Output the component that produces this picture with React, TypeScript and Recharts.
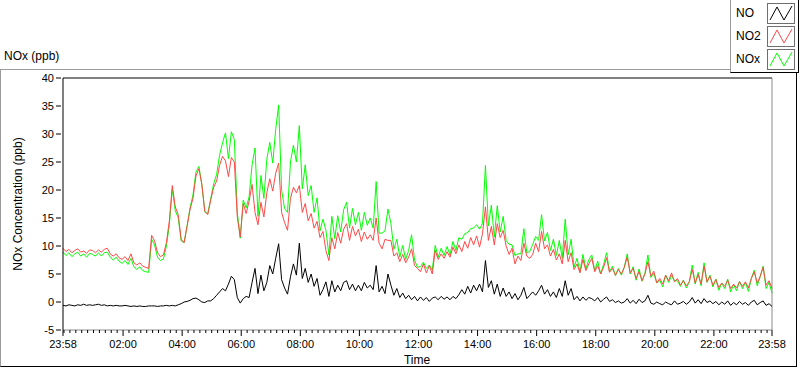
import { Line, LineChart, ReferenceLine, XAxis, YAxis } from "recharts";

// sampled every 6 minutes from 23:58 (t = 0) to 23:58 next day (t = 1440)
const SAMPLE_MINUTES = 6;

const no = [
  -0.6, -0.7, -0.5, -0.6, -0.7, -0.5, -0.6, -0.4, -0.6, -0.5,
  -0.6, -0.5, -0.4, -0.6, -0.5, -0.7, -0.6, -0.7, -0.6, -0.7,
  -0.7, -0.6, -0.7, -0.8, -0.7, -0.8, -0.7, -0.8, -0.8, -0.7,
  -0.7, -0.7, -0.8, -0.7, -0.7, -0.6, -0.7, -0.6, -0.7, -0.5,
  -0.3, 0.0, 0.1, 0.3, 0.6, 0.7, 0.4, 0.0, -0.1, 0.2,
  0.2, 0.6, 1.2, 1.8, 2.4, 2.0, 3.2, 4.6, 4.0, 0.8,
  -0.2, 0.6, 1.0, 0.8, 3.5, 6.0, 1.5, 4.8, 2.0, 3.5,
  6.5, 5.0, 7.8, 10.4, 4.0, 2.5, 1.4, 4.5, 6.8, 4.8,
  10.5, 4.2, 6.0, 3.5, 5.0, 2.8, 4.2, 1.2, 2.2, 3.6,
  1.0, 3.8, 1.8, 3.0, 2.0, 3.5, 3.8, 2.2, 3.2, 2.0,
  3.0, 2.0, 3.5, 2.5, 3.0, 2.2, 6.5, 1.8, 2.8, 1.5,
  5.0, 3.0, 1.2, 2.4, 0.8, 1.6, 0.6, 1.2, 0.4, 1.0,
  0.2, 0.9, 0.3, 0.8, 0.1, 0.7, 0.9, 0.4, 1.0, 0.5,
  0.9, 0.4, 1.0, 0.6, 1.3, 2.2, 1.4, 2.8, 1.6, 3.0,
  2.0, 3.2, 1.8, 7.4, 2.6, 3.8, 1.4, 3.2, 1.0, 2.5,
  1.0, 1.8, 0.6, 1.5, 0.4, 1.2, 2.6, 0.6, 1.2, 1.8,
  1.2, 2.0, 3.0, 1.4, 2.2, 1.0, 1.8, 0.8, 2.4, 1.0,
  3.8, 1.2, 2.4, 0.4, 1.0, 0.2, 0.9, 0.3, 0.8, 0.6,
  0.2, 0.8, 0.0, 0.5, 0.9, 0.1, 0.4, -0.1, 0.2, -0.2,
  0.0, 0.6, -0.2, 0.3, -0.3, 0.5, -0.1, 0.2, 1.2, -0.2,
  -0.4, 0.0, -0.3, -0.5, 0.0, -0.3, -0.5, 0.2, -0.4, -0.2,
  0.1, -0.4, 0.0, 0.8, -0.2, 0.4, -0.3, 0.6, -0.1, 0.2,
  -0.3, 0.1, -0.5, 0.0, -0.4, 0.2, -0.6, -0.1, -0.5, 0.1,
  -0.4, -0.1, -0.6, 0.0, 0.3, -0.5, -0.1, 0.2, -0.6, -0.3, -0.8,
];

const no2 = [
  9.6, 9.0, 9.4, 8.8, 9.2, 9.5, 8.9, 9.1, 8.7, 9.3,
  9.2, 8.8, 9.3, 8.9, 9.4, 9.6, 8.6, 8.2, 8.6, 7.9,
  7.6, 8.1, 7.4, 8.6, 7.0, 6.6, 7.0, 6.4, 6.2, 6.0,
  11.9, 10.9, 8.8, 8.1, 8.4, 10.6, 14.5, 20.8, 17.0, 15.6,
  11.2, 10.6, 13.5, 16.5, 18.5, 22.5, 23.8, 21.0, 16.2, 15.6,
  18.2, 20.5, 21.6, 24.4, 26.0, 25.2, 22.4, 25.8, 25.0, 15.2,
  11.6, 17.6, 15.8, 18.0, 21.0, 16.0, 13.8, 17.8, 15.2, 19.5,
  22.0, 19.8, 23.0, 24.8, 16.0, 14.2, 12.8, 18.5, 20.5, 19.5,
  20.8, 16.0, 17.6, 14.5, 15.8, 13.2, 14.4, 11.5, 12.6, 9.2,
  7.4, 11.5, 9.5, 12.4, 10.5, 13.0, 14.0, 11.0, 13.5, 11.8,
  13.0, 10.8, 12.5, 11.2, 12.0, 11.0, 15.0, 10.5, 9.5, 11.2,
  11.0, 11.0, 8.2, 8.8, 7.2, 8.5, 7.0, 8.0, 9.5, 6.5,
  6.0, 5.4, 6.8, 5.2, 6.5, 5.0, 9.2, 7.6, 8.6, 7.8,
  9.0, 8.0, 9.8, 8.6, 10.2, 9.0, 10.8, 9.6, 11.5, 10.2,
  11.8, 9.8, 12.2, 17.0, 11.0, 13.5, 10.2, 14.0, 11.5, 12.8,
  10.0, 8.5, 9.6, 6.8, 8.2, 7.4, 10.5, 8.2, 7.8, 8.5,
  10.5, 9.0, 12.6, 9.5, 10.2, 8.2, 9.4, 7.5, 8.6, 6.8,
  11.0, 7.2, 8.8, 5.8, 6.8, 5.2, 7.6, 5.6, 6.8, 7.8,
  5.4, 6.5, 5.0, 6.2, 7.9, 5.3, 6.0, 4.8, 5.8, 5.0,
  6.2, 8.0, 5.2, 6.0, 4.2, 5.4, 3.8, 5.0, 7.2, 4.6,
  5.5, 3.4, 4.2, 3.2, 4.8, 3.8, 5.2, 3.6, 4.2, 3.0,
  3.8, 2.9, 3.6, 5.8, 3.4, 4.9, 3.2, 6.4, 3.6, 4.6,
  3.0, 4.0, 2.6, 3.4, 2.8, 3.9, 2.4, 3.2, 2.5, 3.6,
  2.8, 3.6, 2.5, 4.2, 5.4, 3.4, 4.6, 6.2, 3.0, 3.8, 2.4,
];

const nox = [
  8.9, 8.3, 8.8, 8.1, 8.6, 8.9, 8.2, 8.6, 8.0, 8.7,
  8.5, 8.2, 8.8, 8.2, 8.8, 8.9, 8.0, 7.5, 8.0, 7.3,
  6.9, 7.4, 6.7, 7.8, 6.3, 5.8, 6.3, 5.6, 5.4, 5.3,
  11.2, 10.2, 8.0, 7.4, 7.7, 10.0, 13.8, 20.2, 16.3, 15.1,
  10.9, 10.6, 13.6, 16.8, 19.1, 23.2, 24.2, 21.0, 16.1, 15.8,
  18.4, 21.1, 22.8, 26.2, 28.4, 30.2, 25.6, 30.4, 29.0, 16.0,
  11.4, 18.2, 16.8, 18.8, 24.5, 27.5, 15.3, 22.6, 18.5, 25.5,
  28.5, 24.8, 30.8, 35.2, 20.0, 16.7, 16.0, 25.0, 28.0, 25.0,
  31.5, 20.2, 24.5, 19.0, 20.8, 16.0, 18.6, 12.7, 14.8, 12.8,
  8.4, 15.3, 11.3, 15.4, 12.5, 16.5, 17.8, 13.2, 16.7, 13.8,
  16.0, 12.8, 16.0, 13.7, 15.0, 13.2, 21.5, 12.3, 12.3, 12.7,
  16.6, 14.0, 9.4, 11.2, 8.0, 10.1, 7.6, 9.2, 12.0, 7.5,
  6.2, 6.3, 7.1, 6.0, 6.6, 5.7, 10.1, 8.0, 9.6, 8.3,
  9.9, 8.4, 10.8, 9.2, 11.5, 11.2, 12.2, 12.4, 13.1, 13.2,
  13.8, 13.0, 14.0, 24.4, 13.6, 17.3, 11.6, 17.2, 12.5, 15.3,
  11.0, 10.3, 10.2, 8.3, 8.6, 8.6, 13.1, 8.8, 9.0, 10.3,
  11.7, 11.0, 15.6, 10.9, 12.4, 9.2, 11.2, 8.3, 11.0, 7.8,
  14.8, 8.4, 11.2, 6.2, 7.8, 5.4, 8.5, 5.9, 7.6, 8.4,
  5.6, 7.3, 5.0, 6.7, 8.8, 5.4, 6.4, 4.7, 6.0, 4.8,
  6.2, 8.6, 5.0, 6.3, 3.9, 5.9, 3.7, 5.2, 8.4, 4.4,
  5.1, 3.4, 3.9, 2.7, 4.8, 3.5, 4.7, 3.8, 3.8, 2.8,
  3.9, 2.5, 3.6, 6.6, 3.2, 5.3, 2.9, 7.0, 3.5, 4.8,
  2.7, 4.1, 2.1, 3.4, 2.4, 4.1, 1.8, 3.1, 2.0, 3.7,
  2.4, 3.5, 1.9, 4.2, 5.7, 2.9, 4.5, 6.4, 2.4, 3.5, 1.6,
];

const yTicks = [-5, 0, 5, 10, 15, 20, 25, 30, 35, 40];
// major x ticks (minutes after 23:58) and their labels
const majorTicks = [0, 122, 242, 362, 482, 602, 722, 842, 962, 1082, 1202, 1322, 1440];
const majorLabels = ["23:58", "02:00", "04:00", "06:00", "08:00", "10:00", "12:00", "14:00", "16:00", "18:00", "20:00", "22:00", "23:58"];
const minorTicks = [2, 14, 26, 38, 50, 62, 74, 86, 98, 110, 134, 146, 158, 170, 182, 194, 206, 218, 230, 254, 266, 278, 290, 302, 314, 326, 338, 350, 374, 386, 398, 410, 422, 434, 446, 458, 470, 494, 506, 518, 530, 542, 554, 566, 578, 590, 614, 626, 638, 650, 662, 674, 686, 698, 710, 734, 746, 758, 770, 782, 794, 806, 818, 830, 854, 866, 878, 890, 902, 914, 926, 938, 950, 974, 986, 998, 1010, 1022, 1034, 1046, 1058, 1070, 1094, 1106, 1118, 1130, 1142, 1154, 1166, 1178, 1190, 1214, 1226, 1238, 1250, 1262, 1274, 1286, 1298, 1310, 1334, 1346, 1358, 1370, 1382, 1394, 1406, 1418, 1430];

const series = [
  { key: "NO", color: "#000000" },
  { key: "NO2", color: "#ff4848" },
  { key: "NOx", color: "#00ff00" },
];

const data = no.map((v, i) => ({ t: i * SAMPLE_MINUTES, NO: v, NO2: no2[i], NOx: nox[i] }));

const FONT = "'Liberation Sans', Arial, sans-serif";

const XTick = (props: any) => {
  const { x, y, payload } = props;
  const idx = majorTicks.indexOf(payload.value);
  if (idx < 0) {
    return <line x1={x} x2={x} y1={y} y2={y + 3} stroke="#000" />;
  }
  return (
    <g>
      <line x1={x} x2={x} y1={y} y2={y + 6} stroke="#000" />
      <text x={x} y={y + 18} textAnchor="middle" fontSize={11} fontFamily={FONT} fill="#000">
        {majorLabels[idx]}
      </text>
    </g>
  );
};

const YTick = (props: any) => {
  const { x, y, payload } = props;
  return (
    <g>
      <line x1={x - 7} x2={x - 2} y1={y} y2={y} stroke="#000" />
      <text x={x - 9} y={y + 4} textAnchor="end" fontSize={11} fontFamily={FONT} fill="#000">
        {payload.value}
      </text>
    </g>
  );
};

function LegendBox() {
  return (
    <div
      style={{
        position: "absolute",
        left: 730,
        top: 0,
        width: 67,
        height: 72,
        borderLeft: "1px solid #9a9a9a",
        borderBottom: "1px solid #000",
        borderRight: "1px solid #000",
        background: "#fff",
      }}
    >
      {series.map((s, i) => (
        <div key={s.key} style={{ position: "absolute", left: 0, top: 3 + i * 23, height: 21, width: 67 }}>
          <span
            style={{
              position: "absolute",
              left: 5,
              top: 3,
              fontSize: 12,
              fontFamily: FONT,
              color: "#000",
            }}
          >
            {s.key}
          </span>
          <svg width={28} height={21} style={{ position: "absolute", left: 36, top: 0 }}>
            <rect x={0.5} y={0.5} width={27} height={20} fill="#fff" stroke="#6e6e6e" />
            <polyline points="3,17 10,4 17,17 25,3" fill="none" stroke={s.color} strokeWidth={1} />
          </svg>
        </div>
      ))}
    </div>
  );
}

export default function App() {
  return (
    <div style={{ position: "absolute", left: 0, top: 0, width: 800, height: 369, background: "#fff" }}>
      <div
        style={{
          position: "absolute",
          left: 0,
          top: 69,
          width: 797,
          height: 298,
          borderTop: "1px solid #9a9a9a",
          borderLeft: "1px solid #9a9a9a",
          borderRight: "1px solid #000",
          borderBottom: "1px solid #000",
          boxSizing: "border-box",
        }}
      />
      <div
        style={{
          position: "absolute",
          left: 4,
          top: 49,
          fontSize: 12,
          fontFamily: FONT,
          color: "#000",
        }}
      >
        NOx (ppb)
      </div>
      <LegendBox />
      <div style={{ position: "absolute", left: 0, top: 0 }}>
        <LineChart width={800} height={369} data={data} margin={{ top: 78, right: 28, bottom: 9, left: 23 }}>
          <XAxis
            dataKey="t"
            type="number"
            domain={[0, 1440]}
            ticks={[...majorTicks, ...minorTicks].sort((a, b) => a - b)}
            interval={0}
            height={30}
            tickSize={0}
            tickMargin={0}
            tick={<XTick />}
            axisLine={{ stroke: "#8a8a8a", strokeWidth: 1 }}
            tickLine={false}
          />
          <YAxis
            type="number"
            domain={[-5, 40]}
            ticks={yTicks}
            interval={0}
            width={40}
            tickSize={0}
            tickMargin={0}
            tick={<YTick />}
            axisLine={{ stroke: "#000" }}
            tickLine={false}
            allowDataOverflow
          />
          <ReferenceLine y={40} stroke="#000" />
          <ReferenceLine x={1440} stroke="#8a8a8a" />
          <Line type="linear" dataKey="NOx" stroke="#00ff00" strokeWidth={1} dot={false} isAnimationActive={false} />
          <Line type="linear" dataKey="NO2" stroke="#ff4848" strokeWidth={1} dot={false} isAnimationActive={false} />
          <Line type="linear" dataKey="NO" stroke="#000000" strokeWidth={1} dot={false} isAnimationActive={false} />
        </LineChart>
      </div>
      <div
        style={{
          position: "absolute",
          left: 417,
          top: 360,
          transform: "translate(-50%, -50%)",
          fontSize: 12,
          fontFamily: FONT,
          color: "#000",
        }}
      >
        Time
      </div>
      <div
        style={{
          position: "absolute",
          left: 18,
          top: 204,
          transform: "translate(-50%, -50%) rotate(-90deg)",
          fontSize: 12,
          fontFamily: FONT,
          color: "#000",
          whiteSpace: "nowrap",
        }}
      >
        NOx Concentration (ppb)
      </div>
    </div>
  );
}
